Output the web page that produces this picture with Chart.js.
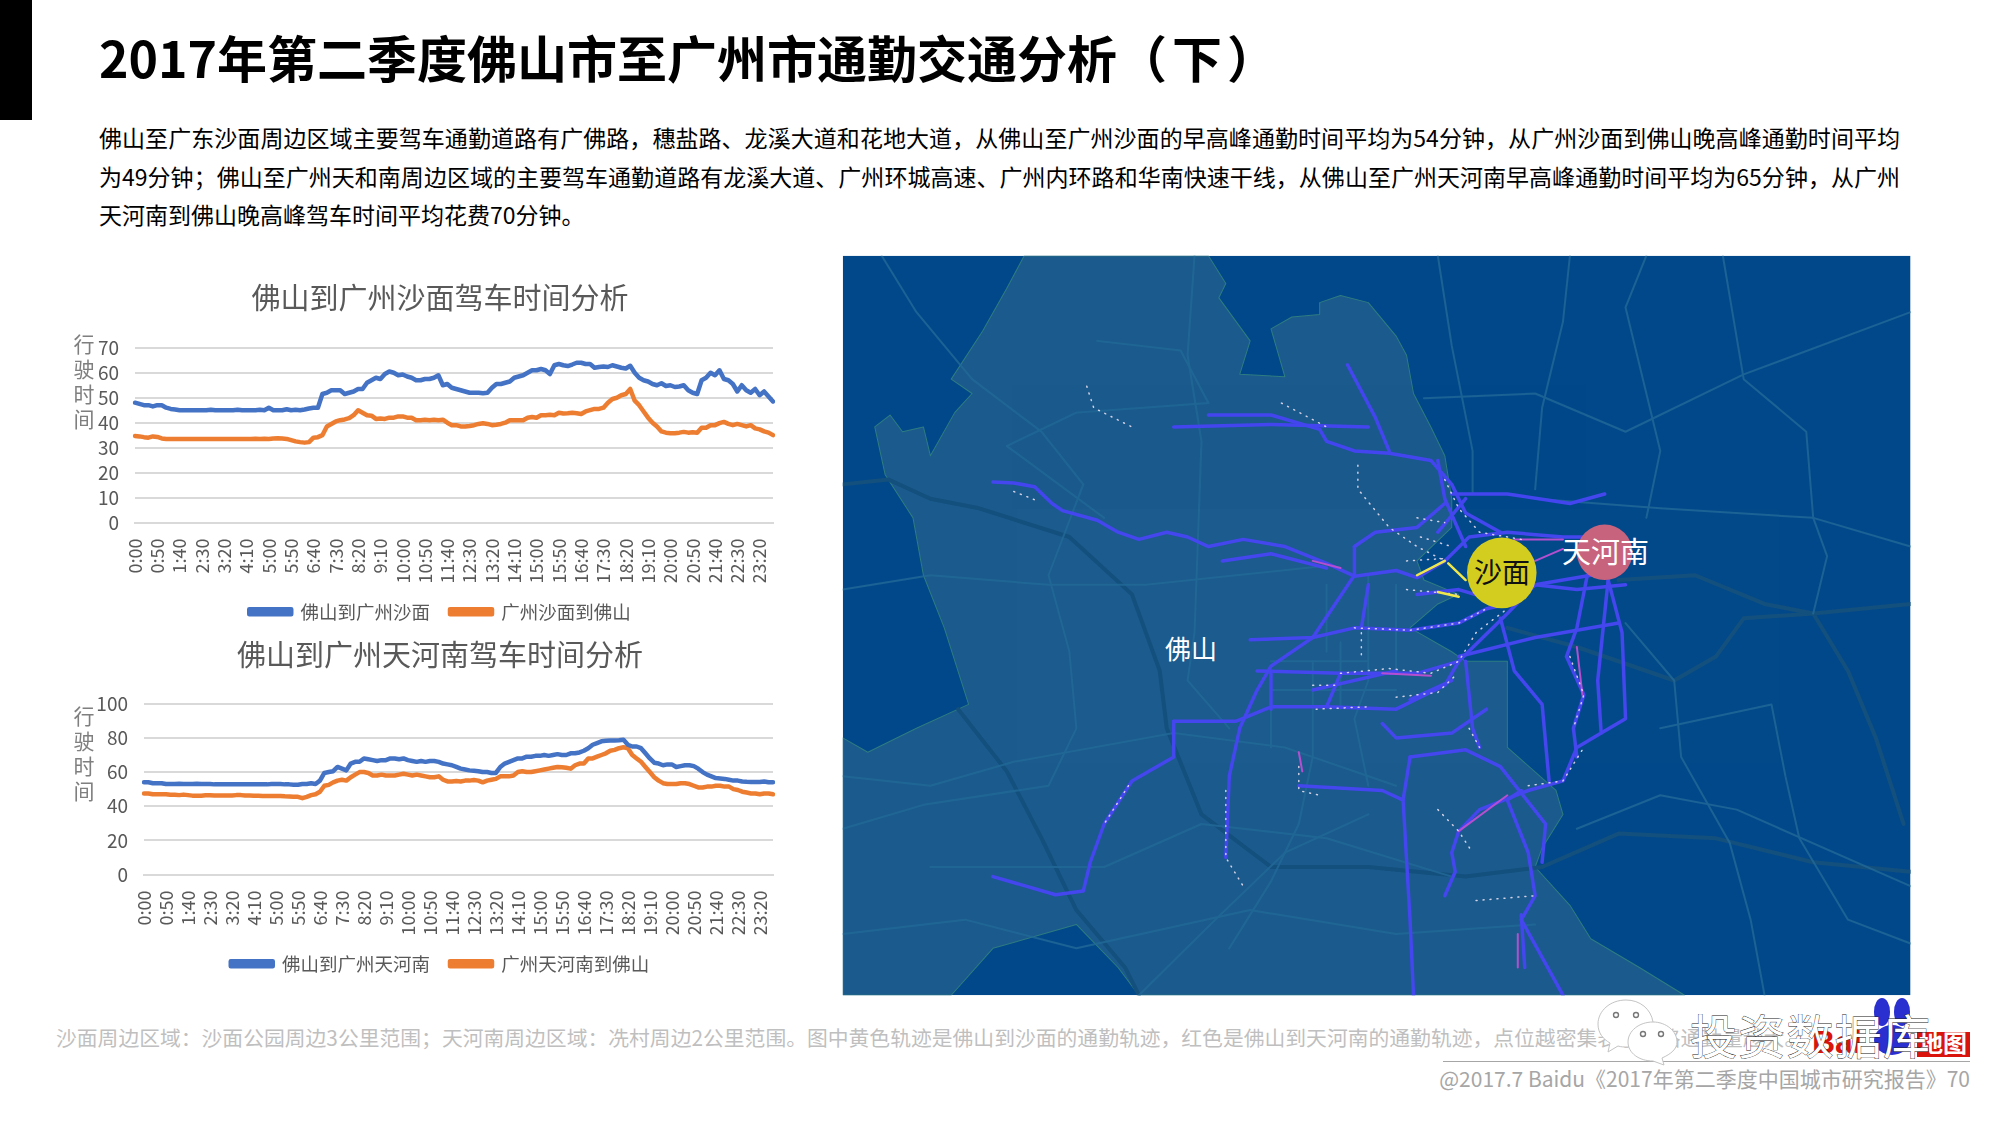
<!DOCTYPE html>
<html>
<head>
<meta charset="utf-8">
<title>2017年第二季度佛山市至广州市通勤交通分析</title>
<script src="https://cdn.jsdelivr.net/npm/chart.js@4"></script>
<style>
  html, body { margin: 0; padding: 0; background: #fff; }
  body { width: 2000px; height: 1125px; position: relative; overflow: hidden; font-family: "Noto Sans CJK SC", "Noto Sans", sans-serif; }
  .abs { position: absolute; white-space: nowrap; }
  #bar { left: 0; top: 0; width: 32px; height: 120px; background: #000; }
  #title { left: 99px; top: 22px; font-size: 50px; line-height: 68px; font-weight: 700; color: #000; }
  #title span { letter-spacing: 5px; }
  .body { left: 99px; width: 1801px; font-size: 23px; line-height: 34px; color: #000; }
  .just { white-space: normal; text-align: justify; text-align-last: justify; }
  .ylab { left: 72px; width: 24px; font-size: 21px; line-height: 25px; color: #7f7f7f; text-align: center; white-space: normal; }
  canvas { position: absolute; }
  #map { position: absolute; left: 840px; top: 250px; width: 1090px; height: 750px; }
  #map path { vector-effect: non-scaling-stroke; }
  #note { left: 56px; top: 1022px; font-size: 20.8px; line-height: 30px; color: #bfbfbf; }
  #rule { left: 1443px; top: 1061px; width: 527px; height: 1px; background: #a6a6a6; }
  #foot { right: 30px; top: 1063px; font-size: 21px; line-height: 30px; color: #a6a6a6; }
  #mark { position: absolute; left: 1590px; top: 990px; width: 400px; height: 90px; }
</style>
</head>
<body>
<div class="abs" id="bar"></div>
<div class="abs" id="title">2017年第二季度佛山市至广州市通勤交通分析<span>（下）</span></div>
<div class="abs body just" style="top:120px">佛山至广东沙面周边区域主要驾车通勤道路有广佛路，穗盐路、龙溪大道和花地大道，从佛山至广州沙面的早高峰通勤时间平均为54分钟，从广州沙面到佛山晚高峰通勤时间平均</div>
<div class="abs body just" style="top:159px">为49分钟；佛山至广州天和南周边区域的主要驾车通勤道路有龙溪大道、广州环城高速、广州内环路和华南快速干线，从佛山至广州天河南早高峰通勤时间平均为65分钟，从广州</div>
<div class="abs body" style="top:197px">天河南到佛山晚高峰驾车时间平均花费70分钟。</div>

<canvas id="shamian" width="760" height="350" style="left:60px;top:281px;width:760px;height:350px"></canvas>
<canvas id="tianhe" width="760" height="345" style="left:60px;top:638px;width:760px;height:345px"></canvas>
<div class="abs ylab" style="top:331px">行<br>驶<br>时<br>间</div>
<div class="abs ylab" style="top:703px">行<br>驶<br>时<br>间</div>

<svg id="map" viewBox="0 0 1568 1568" preserveAspectRatio="none">
  <defs><clipPath id="mapclip"><rect x="4" y="12" width="1536" height="1546"/></clipPath></defs>
  <g clip-path="url(#mapclip)" fill="none" stroke-linejoin="round" stroke-linecap="round">
    <rect x="4" y="12" width="1536" height="1546" fill="#02498a" stroke="none"/>
    <path fill="#1c5b8d" stroke="#2f7d80" stroke-width="1" d="M265 12L240 80 205 170 160 270 190 300 165 340 130 430 120 370 90 380 72 345 50 370 65 470 105 560 120 680 150 790 185 950 110 1000 40 1050 4 1020 4 1558 160 1558 220 1460 340 1410 400 1500 430 1558 1215 1558 1150 1500 1080 1440 1050 1370 1000 1290 1010 1250 1040 1180 1030 1130 960 1040 960 970 960 860 900 860 880 840 820 790 860 740 890 720 840 690 830 650 880 580 880 520 870 430 850 370 825 300 815 220 800 180 760 110 720 95 690 110 690 135 650 140 620 165 640 265 575 260 590 190 545 100 555 70 530 12Z"/>
    <g stroke="#14507e" stroke-width="4">
      <path d="M4 490L70 480 130 520 200 540 330 600 420 720 460 880 470 1000 520 1180 620 1290 760 1290 900 1310 1010 1290"/>
      <path d="M170 960L240 1090 290 1230 340 1380 410 1500 430 1558"/>
      <path d="M960 790L1060 830 1200 900 1260 850 1300 770 1400 760 1450 880 1490 1020 1530 1200"/>
      <path d="M1120 690L1230 680 1330 740 1400 760 1540 740"/>
      <path d="M1010 1290L1120 1220 1260 1230 1400 1280 1540 1300"/>
    </g>
    <g stroke="#226a98" stroke-width="2" opacity="0.8">
      <path d="M60 12L110 130 190 270 290 380 350 490 300 680 330 840 340 1000 300 1120 120 1160 4 1210"/>
      <path d="M4 710L130 680 300 700 440 700 700 660"/>
      <path d="M510 12L500 220 520 400 510 800 500 900 560 1000"/>
      <path d="M860 12L880 200 910 420 910 510"/>
      <path d="M1050 12L1040 150 1010 330 1000 500"/>
      <path d="M1160 12L1130 120 1180 420 1160 560"/>
      <path d="M1270 12L1300 270 1390 380 1400 560 1420 640 1400 760"/>
      <path d="M840 310L1000 300 1130 380 1300 260 1540 130"/>
      <path d="M1000 520L1180 540 1400 560 1540 620"/>
      <path d="M1130 780L1200 900 1210 1060 1280 1240 1310 1400 1330 1558"/>
      <path d="M1180 1000L1340 950 1360 1100 1380 1230 1450 1400 1540 1450"/>
      <path d="M1060 1210L1180 1140 1290 1170 1540 1330"/>
      <path d="M4 1100L130 1120 250 1070 480 1010 640 1040 800 1120"/>
      <path d="M130 1290L380 1290 520 1200 700 1230 880 1310"/>
      <path d="M430 1558L540 1400 640 1260 760 1180"/>
      <path d="M370 190L490 210 530 320 340 340 240 410 380 560"/>
      <path d="M680 860L680 1060 660 1200 620 1320 560 1460"/>
      <path d="M760 680L760 900 740 980 760 1120"/>
      <path d="M4 1430L180 1400 340 1460 590 1380 800 1430 1000 1410"/>
      <path d="M700 700L700 840M620 960L620 1040M720 820L720 960M800 700L800 880M620 860L760 860M620 920L800 920"/>
    </g>
    <g stroke="#4446ee" stroke-width="3.5">
      <path d="M220 485L250 487 280 495 305 530 320 545 370 565 400 590 430 605 470 590 500 600 530 620 580 605 640 620 700 655 740 682 800 670 830 685 870 650 905 600 960 590 1040 600 1100 600"/>
      <path d="M530 345L620 345 690 375 700 400 740 420 790 425 850 440 880 490 900 550 950 590"/>
      <path d="M730 240L770 350 790 420"/>
      <path d="M480 370L620 365 760 370"/>
      <path d="M480 985L480 1060 420 1110 380 1200 360 1280 350 1340 310 1348 220 1310"/>
      <path d="M480 985L570 985 620 955 700 955 800 960 870 910 890 860 960 760 1000 700 1080 680"/>
      <path d="M555 1270L560 1100 575 1000 600 920 620 870 680 810 740 790 820 795 890 780 930 750 960 740"/>
      <path d="M740 620L740 680 680 810 590 815"/>
      <path d="M740 620L770 590 830 580 870 530"/>
      <path d="M890 1215L920 1170 990 1130 1040 1110 1060 1040 1095 1010 1130 980 1125 800 1105 690"/>
      <path d="M980 1130L960 1150 990 1260 1000 1350 980 1400 1040 1558"/>
      <path d="M820 1060L810 1150 820 1400 825 1558"/>
      <path d="M820 1060L900 1045 950 1080 1015 1200 1010 1280"/>
      <path d="M1075 680L1060 790 1045 850 1070 930 1055 1000 1060 1060"/>
      <path d="M1105 690L1090 900 1095 1010"/>
      <path d="M950 770L970 880 1010 950 1020 1110"/>
      <path d="M900 860L910 1000 920 1040"/>
      <path d="M890 850L1000 810 1120 780"/>
      <path d="M600 880L720 885 830 885 890 860"/>
      <path d="M680 920L800 880"/>
      <path d="M820 940L880 900"/>
      <path d="M660 1120L780 1130 810 1150"/>
      <path d="M890 1215L880 1260 885 1300 870 1350"/>
      <path d="M880 510L960 510 1050 530 1100 510"/>
      <path d="M1000 700L1060 710 1130 700"/>
      <path d="M860 590L900 520"/>
      <path d="M830 720L890 710 960 740"/>
      <path d="M780 990L800 1020 880 1010 930 960"/>
      <path d="M550 650L620 635 700 665"/>
      <path d="M860 440L870 520 900 620"/>
      <path d="M620 880L620 960M720 885L700 955M760 700L750 790"/>
      <path d="M980 1390L985 1500"/>
    </g>
    <g stroke="#b54fd0" stroke-width="2">
      <path d="M970 605L1040 605"/>
      <path d="M1000 650L1040 625"/>
      <path d="M780 885L850 890"/>
      <path d="M680 650L720 665"/>
      <path d="M975 1430L975 1500"/>
      <path d="M1060 830L1068 930"/>
      <path d="M660 1050L665 1090"/>
      <path d="M960 1140L890 1215"/>
    </g>
    <g stroke="#f3e6f5" stroke-width="1.5" stroke-dasharray="1 6" opacity="0.85">
      <path d="M355 285L365 330 420 370"/>
      <path d="M635 320L700 370"/>
      <path d="M250 505L285 525"/>
      <path d="M745 450L745 500 790 580 830 620 870 650"/>
      <path d="M870 480L890 540 920 590 980 605"/>
      <path d="M740 790L820 795 890 780 930 750"/>
      <path d="M720 885L790 875 850 885 890 860 915 800 960 750"/>
      <path d="M680 910L720 910"/>
      <path d="M800 935L860 925 885 890"/>
      <path d="M685 960L760 955"/>
      <path d="M905 1000L920 1040"/>
      <path d="M660 1080L660 1130 690 1140"/>
      <path d="M415 1120L380 1200"/>
      <path d="M555 1130L555 1270 580 1330"/>
      <path d="M860 1170L890 1215 910 1260"/>
      <path d="M990 1120L1040 1110 1070 1040"/>
      <path d="M915 1360L1000 1350"/>
      <path d="M1050 850L1070 930 1055 1000"/>
      <path d="M815 710L890 720"/>
      <path d="M750 800L750 850"/>
      <path d="M830 560L870 570M835 600L880 620M815 650L870 645"/>
    </g>
    <g stroke="#f0e84a" stroke-width="2.5">
      <path d="M830 680L870 650"/>
      <path d="M875 655L900 690"/>
      <path d="M860 715L890 725"/>
    </g>
    <ellipse cx="1100" cy="632" rx="40" ry="58" fill="#c8637e" stroke="none"/>
    <ellipse cx="952" cy="675" rx="50" ry="74" fill="#d3cd1f" stroke="none"/>
  </g>
</svg>
<div class="abs" style="left:1165px;top:628px;font-size:26px;line-height:40px;color:#fff">佛山</div>
<div class="abs" style="left:1474px;top:551px;font-size:28px;line-height:40px;color:#111">沙面</div>
<div class="abs" style="left:1562px;top:530px;font-size:29px;line-height:40px;color:#fff">天河南</div>

<div class="abs" id="note">沙面周边区域：沙面公园周边3公里范围；天河南周边区域：冼村周边2公里范围。图中黄色轨迹是佛山到沙面的通勤轨迹，红色是佛山到天河南的通勤轨迹，点位越密集表示该路通勤量越大。</div>
<div class="abs" id="rule"></div>
<div class="abs" id="foot">@2017.7 Baidu《2017年第二季度中国城市研究报告》70</div>

<svg id="mark" viewBox="0 0 400 90">
  <path d="M36 10C20 10 8 21 8 34C8 43 13 49 20 53L18 62L28 56C31 57 34 57 38 57C50 52 62 44 63 32C61 19 50 10 36 10Z" fill="#fff" stroke="#c4c4c4"/>
  <path d="M63 32C49 32 38 41 38 52C38 63 49 71 63 71L74 75L72 68C81 64 87 59 87 52C87 41 76 32 63 32Z" fill="#fff" stroke="#c4c4c4"/>
  <circle cx="26" cy="25" r="2.5" fill="none" stroke="#777" stroke-width="1.4"/>
  <circle cx="46" cy="25" r="2.5" fill="none" stroke="#777" stroke-width="1.4"/>
  <circle cx="53" cy="44" r="2.5" fill="none" stroke="#777" stroke-width="1.4"/>
  <circle cx="71" cy="44" r="2.5" fill="none" stroke="#777" stroke-width="1.4"/>
  <text x="222" y="63" font-size="32" font-weight="700" fill="#d8140c" font-family="Liberation Sans">Bai</text>
  <ellipse cx="292" cy="22" rx="8" ry="14" fill="#2a2fd0"/>
  <ellipse cx="312" cy="22" rx="8" ry="14" fill="#2a2fd0"/>
  <ellipse cx="302" cy="50" rx="18" ry="15" fill="#2a2fd0"/>
  <rect x="327" y="42" width="53" height="25" fill="#d8140c"/>
  <text x="329" y="62" font-size="24" font-weight="700" fill="#fff">地图</text>
  <text x="100" y="64" font-size="47" textLength="240" lengthAdjust="spacing" fill="#fff" stroke="#222" stroke-width="0.8" paint-order="stroke">投资数据库</text>
</svg>

<script>
// one point every 10 minutes, 144 per day
const timeLabels = [];
for (let h = 0; h < 24; h++) {
  for (let m = 0; m < 60; m += 10) {
    timeLabels.push(h + ':' + (m === 0 ? '00' : m));
  }
}

const foshanToShamian = [
  48, 47.5, 47, 47, 46.5, 47, 47, 46, 45.5, 45.3,
  45, 45, 45, 45, 45, 45, 45, 45.2, 45, 45,
  45, 45, 45, 45.2, 45, 45, 45, 45, 45.2, 45,
  46, 45, 45, 45, 45.4, 45, 45.2, 45, 45.3, 45.7,
  46, 46, 51.5, 52, 53, 53, 53, 51.5, 52, 52.5,
  53.5, 53.5, 56, 57, 58, 57.5, 59.5, 60.5, 60, 59,
  59.3, 58.5, 58, 57, 57, 57.5, 57.5, 58, 59, 55,
  55.5, 54, 53.5, 53, 52.5, 52, 52, 52, 51.8, 52,
  54, 55.5, 55.5, 56, 56.5, 58, 58.5, 59, 60, 61,
  61, 61.5, 61, 59.5, 63, 63.5, 63, 62.7, 63.3, 64,
  64, 63.5, 63.5, 62, 62.3, 62.5, 62.3, 63, 62.5, 62,
  61.7, 62.8, 60, 58, 57, 56.5, 55.5, 55, 55.8, 54.7,
  55, 54.3, 54.5, 55, 53, 52, 51.5, 57, 58, 60,
  59, 61, 57.5, 57, 55.5, 52.5, 55, 53, 52, 53.5,
  51, 52.5, 50.5, 48.5
];
const shamianToFoshan = [
  34.7, 34.5, 34.2, 34, 34.5, 34.3, 33.7, 33.5, 33.5, 33.5,
  33.5, 33.5, 33.5, 33.5, 33.5, 33.5, 33.5, 33.5, 33.5, 33.5,
  33.5, 33.5, 33.5, 33.5, 33.5, 33.5, 33.5, 33.6, 33.5, 33.6,
  33.5, 33.7, 33.8, 33.7, 33.5, 33, 32.5, 32.2, 32, 32.2,
  34, 34.2, 35, 38.5, 39.5, 40.5, 41, 41.3, 41.8, 43,
  45, 44, 43, 42.8, 41.5, 41.7, 41.5, 42, 42, 42.5,
  42.5, 42, 42, 41, 41, 41.2, 41, 41.2, 41, 41.2,
  40, 39, 39, 38.5, 38.5, 38.7, 39, 39.5, 39.8, 39.5,
  39, 39.2, 39.5, 40, 41, 41, 41, 41, 42, 42.3,
  42, 43, 43, 43.2, 43, 44, 43.7, 43.8, 44, 43.8,
  43.5, 44.5, 45, 45.5, 45.5, 46, 48, 49.5, 50, 51,
  51.5, 53.5, 48.8, 47, 44.5, 42, 40, 38.5, 36.5, 36,
  35.8, 35.8, 36, 36.3, 36, 36.2, 36, 38, 38, 39,
  39, 39.8, 40.3, 39.5, 39, 39.5, 39, 38.5, 39, 37.7,
  37.3, 36.5, 36, 35
];
const foshanToTianhe = [
  54, 54, 53.5, 53.5, 53.5, 53, 53, 53, 53.2, 53,
  53, 53, 53.2, 53, 53, 53, 52.8, 52.8, 52.8, 52.8,
  52.8, 52.8, 52.8, 52.8, 52.8, 52.8, 52.8, 52.8, 52.8, 53,
  53, 53, 52.8, 52.8, 52.6, 52.6, 53, 53, 53.5, 53,
  55, 59.5, 60, 60.5, 63, 62, 61, 65, 66, 66,
  68, 67.5, 67, 66.5, 67, 67, 68, 68, 67.5, 68,
  67, 66.5, 66, 66.5, 66, 66.5, 66.5, 66, 65, 64.5,
  64, 63, 62, 61.5, 61, 60.8, 60.5, 60, 60, 59.5,
  59.5, 63, 65, 66, 67, 68, 68, 69, 69, 69.5,
  69.5, 70, 69.5, 70, 70.5, 70, 70, 71, 71, 71.5,
  72.5, 74, 76, 77, 78, 78.3, 78.5, 78.5, 78.7, 79,
  76, 75, 75, 74, 71, 68, 65.5, 65, 64, 64.5,
  64.5, 63, 63.5, 64, 64, 63.5, 62, 60, 58.5, 57.5,
  56.5, 56.3, 56, 55.5, 55, 55, 54.5, 54.3, 54.2, 54.2,
  54.2, 54.5, 54, 54
];
const tianheToFoshan = [
  47.5, 47.5, 47, 47, 47, 47, 46.7, 46.7, 46.5, 46.8,
  46.5, 46.2, 46.2, 46.2, 46.4, 46.4, 46.3, 46.3, 46.3, 46.3,
  46.3, 46.5, 46.5, 46.3, 46.3, 46.2, 46.2, 46, 46, 46,
  46, 46, 45.8, 45.7, 45.5, 45.5, 44.7, 45.5, 46.5, 47,
  48.5, 52, 52.5, 54, 55, 55.5, 55, 57, 58.5, 60,
  60, 59.5, 58, 58, 58.5, 58, 58, 58, 58.5, 59,
  58.5, 58, 58.5, 58, 57.5, 57, 57, 57.5, 55.5, 54.5,
  54.5, 54.8, 54.5, 55, 55, 55.3, 55, 54, 55, 55.5,
  56, 57.5, 57.5, 57.5, 58, 60, 60.5, 60, 60, 60.5,
  61, 61.5, 62, 62.5, 63, 62.8, 62.5, 62, 64, 65,
  65, 68, 68, 69, 70, 71, 72.5, 73, 74, 74.5,
  74, 70, 68, 66, 63, 60, 57, 55, 53.5, 53,
  53, 53, 53.5, 53.5, 53, 52, 51, 51, 51.5, 51.5,
  52, 52, 51.5, 51.5, 50, 49.5, 48.5, 48, 47.5, 47.5,
  47, 47.5, 47.5, 47
];

const yStepShamian = 10, yMaxShamian = 70;
const yStepTianhe = 20, yMaxTianhe = 100;

const blue = '#4472c4', orange = '#ed7d31', grey = '#595959', gridGrey = '#d9d9d9';
const fontName = '"Noto Sans CJK SC", "Noto Sans", sans-serif';

function drawChart(id, title, names, blueVals, orangeVals, yMax, yStep, axisWidth, titleGap) {
  new Chart(document.getElementById(id), {
    type: 'line',
    data: {
      labels: timeLabels,
      datasets: [
        { label: names[0], data: blueVals, borderColor: blue, backgroundColor: blue },
        { label: names[1], data: orangeVals, borderColor: orange, backgroundColor: orange }
      ]
    },
    options: {
      responsive: false,
      animation: false,
      elements: {
        point: { radius: 0 },
        line: { borderWidth: 4.5, tension: 0, borderJoinStyle: 'round', borderCapStyle: 'round' }
      },
      plugins: {
        title: {
          display: true,
          text: title,
          color: grey,
          font: { family: fontName, size: 29, weight: 'normal' },
          padding: { top: 0, bottom: titleGap }
        },
        legend: {
          position: 'bottom',
          labels: {
            color: grey,
            font: { family: fontName, size: 18.5 },
            boxWidth: 42,
            boxHeight: 5,
            padding: 20
          }
        },
        tooltip: { enabled: false }
      },
      scales: {
        x: {
          offset: false,
          grid: { display: false },
          border: { color: gridGrey, width: 2 },
          ticks: {
            autoSkip: false,
            minRotation: 90,
            maxRotation: 90,
            padding: 8,
            color: grey,
            font: { family: fontName, size: 18 },
            callback: function (v, i) { return i % 5 === 0 ? timeLabels[i] : null; }
          },
          afterFit: function (s) { s.height = 60; }
        },
        y: {
          min: 0,
          max: yMax,
          grid: { color: gridGrey, lineWidth: 2, drawTicks: false },
          border: { display: false },
          ticks: {
            stepSize: yStep,
            autoSkip: false,
            padding: 16,
            color: grey,
            font: { family: fontName, size: 19 }
          },
          afterFit: function (s) { s.width = axisWidth; }
        },
        // empty axis keeps the plot clear of the centre line of title and legend
        yRight: {
          position: 'right',
          grid: { display: false },
          border: { display: false },
          ticks: { display: false },
          afterFit: function (s) { s.width = 47; }
        }
      }
    }
  });
}

drawChart('shamian', '佛山到广州沙面驾车时间分析', ['佛山到广州沙面', '广州沙面到佛山'],
  foshanToShamian, shamianToFoshan, yMaxShamian, yStepShamian, 75, 32);
drawChart('tianhe', '佛山到广州天河南驾车时间分析', ['佛山到广州天河南', '广州天河南到佛山'],
  foshanToTianhe, tianheToFoshan, yMaxTianhe, yStepTianhe, 84, 31);
</script>
</body>
</html>
